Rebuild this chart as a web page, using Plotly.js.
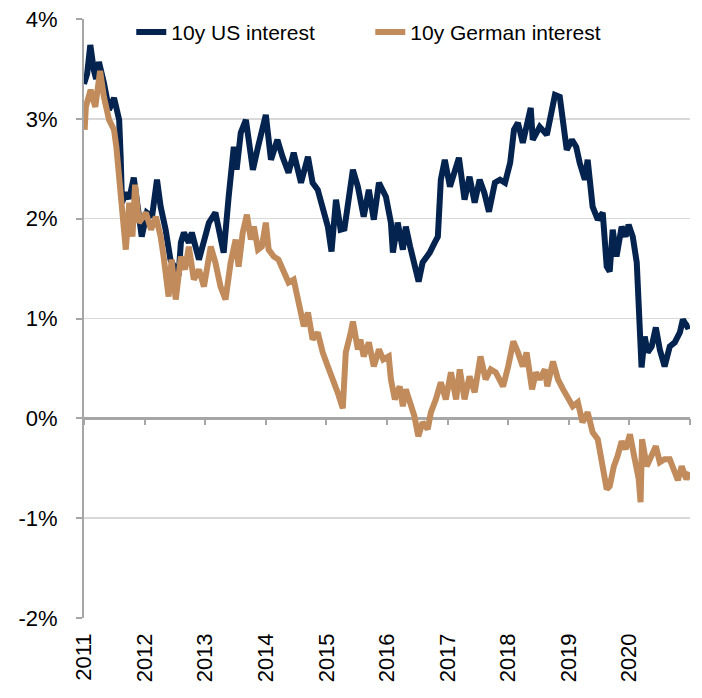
<!DOCTYPE html>
<html>
<head>
<meta charset="utf-8">
<script src="https://cdn.plot.ly/plotly-3.0.1.min.js"></script>
<style>html,body{margin:0;padding:0;background:#fff;}#chart{width:702px;height:698px;}</style>
</head>
<body>
<div id="chart"></div>
<script>
const usDates = ["2011-01-01","2011-01-20","2011-02-08","2011-02-20","2011-03-01","2011-03-15","2011-04-01","2011-05-01","2011-06-01","2011-07-01","2011-08-01","2011-08-10","2011-08-18","2011-09-10","2011-10-01","2011-10-28","2011-11-27","2011-12-15","2012-01-15","2012-02-15","2012-03-16","2012-04-07","2012-05-07","2012-05-25","2012-06-05","2012-07-07","2012-07-24","2012-08-07","2012-08-25","2012-09-24","2012-10-12","2012-11-24","2012-12-18","2013-01-23","2013-03-03","2013-03-28","2013-04-22","2013-05-22","2013-06-22","2013-07-09","2013-08-03","2013-09-03","2013-10-15","2013-11-15","2014-01-01","2014-02-01","2014-03-12","2014-04-12","2014-05-18","2014-06-18","2014-08-01","2014-09-12","2014-10-10","2014-11-10","2014-12-10","2015-01-10","2015-02-01","2015-02-28","2015-03-28","2015-04-20","2015-06-10","2015-07-10","2015-08-14","2015-09-14","2015-10-14","2015-11-14","2015-12-26","2016-01-25","2016-02-06","2016-03-06","2016-04-06","2016-04-24","2016-05-20","2016-06-15","2016-07-10","2016-08-03","2016-09-15","2016-10-15","2016-11-03","2016-11-21","2016-12-15","2017-01-15","2017-02-15","2017-03-10","2017-04-13","2017-05-13","2017-06-13","2017-07-13","2017-08-10","2017-09-07","2017-10-13","2017-11-13","2017-12-13","2018-01-13","2018-02-05","2018-03-01","2018-03-30","2018-05-01","2018-05-17","2018-05-29","2018-07-10","2018-08-22","2018-09-22","2018-10-10","2018-11-08","2018-11-28","2018-12-20","2019-01-20","2019-02-15","2019-03-08","2019-04-08","2019-04-25","2019-05-25","2019-06-25","2019-07-25","2019-08-18","2019-09-05","2019-09-23","2019-10-16","2019-11-16","2019-12-10","2019-12-28","2020-01-22","2020-02-15","2020-03-03","2020-03-15","2020-04-03","2020-04-21","2020-05-15","2020-06-09","2020-07-03","2020-08-01","2020-09-01","2020-10-01","2020-11-01","2020-11-19","2020-12-15","2020-12-31"];
const usValues = [3.35,3.45,3.74,3.55,3.49,3.40,3.57,3.36,3.09,3.21,2.99,2.62,2.16,2.26,2.20,2.41,2.02,1.82,2.06,2.02,2.39,2.12,1.89,1.62,1.59,1.49,1.43,1.76,1.86,1.76,1.86,1.59,1.76,1.96,2.06,1.86,1.66,2.22,2.72,2.49,2.86,2.99,2.49,2.72,3.04,2.59,2.79,2.62,2.46,2.66,2.36,2.62,2.36,2.29,2.12,1.92,1.67,2.19,1.89,1.90,2.49,2.32,2.02,2.29,1.99,2.36,2.22,1.96,1.66,1.96,1.69,1.92,1.72,1.56,1.37,1.56,1.66,1.76,1.82,2.39,2.59,2.32,2.49,2.61,2.19,2.42,2.16,2.39,2.26,2.07,2.36,2.39,2.36,2.56,2.89,2.96,2.76,3.02,3.11,2.79,2.92,2.84,3.12,3.24,3.22,2.96,2.69,2.79,2.72,2.56,2.39,2.59,2.12,1.99,2.06,1.52,1.47,1.89,1.62,1.92,1.82,1.94,1.82,1.56,0.99,0.51,0.82,0.66,0.72,0.91,0.69,0.52,0.72,0.76,0.86,0.99,0.92,0.93];

const deDates = ["2011-01-05","2011-01-12","2011-02-10","2011-03-10","2011-04-08","2011-05-01","2011-06-01","2011-07-01","2011-07-15","2011-08-05","2011-08-20","2011-09-10","2011-10-01","2011-10-20","2011-11-05","2011-11-28","2012-01-09","2012-02-09","2012-03-09","2012-04-07","2012-04-25","2012-05-25","2012-06-12","2012-07-07","2012-08-07","2012-09-01","2012-09-24","2012-10-24","2012-11-24","2012-12-24","2013-02-03","2013-03-03","2013-04-03","2013-05-03","2013-06-03","2013-07-03","2013-07-21","2013-08-15","2013-09-09","2013-10-03","2013-10-21","2013-11-15","2013-12-08","2014-01-01","2014-01-18","2014-02-18","2014-03-18","2014-04-18","2014-05-18","2014-06-18","2014-07-18","2014-08-18","2014-09-12","2014-10-10","2014-11-10","2014-12-10","2015-01-10","2015-02-10","2015-03-10","2015-04-10","2015-04-28","2015-05-28","2015-06-10","2015-07-10","2015-07-25","2015-08-14","2015-09-14","2015-10-14","2015-11-14","2015-12-10","2016-01-12","2016-01-25","2016-02-18","2016-03-18","2016-04-06","2016-04-24","2016-05-20","2016-06-15","2016-07-08","2016-08-03","2016-09-03","2016-09-22","2016-10-22","2016-11-21","2016-12-21","2017-01-21","2017-02-21","2017-03-15","2017-04-13","2017-05-13","2017-06-13","2017-07-18","2017-08-18","2017-09-18","2017-10-18","2017-12-01","2018-01-01","2018-02-01","2018-03-01","2018-03-30","2018-04-22","2018-05-25","2018-06-17","2018-07-10","2018-08-10","2018-08-25","2018-09-28","2018-10-28","2018-11-28","2018-12-26","2019-01-25","2019-02-25","2019-03-25","2019-04-25","2019-05-25","2019-06-25","2019-07-18","2019-08-18","2019-09-05","2019-09-30","2019-10-22","2019-11-16","2019-12-10","2020-01-05","2020-02-03","2020-02-27","2020-03-09","2020-03-18","2020-04-15","2020-05-08","2020-06-09","2020-07-03","2020-08-01","2020-09-01","2020-09-20","2020-10-20","2020-11-12","2020-12-10","2020-12-31"];
const deValues = [2.89,3.12,3.29,3.12,3.48,3.22,2.99,2.89,2.72,2.39,2.02,1.69,2.16,1.82,2.34,1.96,2.06,1.89,2.02,1.82,1.62,1.22,1.59,1.19,1.62,1.49,1.72,1.39,1.49,1.32,1.72,1.56,1.32,1.19,1.56,1.79,1.52,1.86,2.04,1.79,1.92,1.69,1.72,1.96,1.69,1.62,1.59,1.46,1.36,1.39,1.12,0.92,1.06,0.79,0.86,0.66,0.52,0.39,0.26,0.10,0.66,0.86,0.97,0.69,0.79,0.62,0.76,0.52,0.69,0.59,0.62,0.39,0.19,0.32,0.12,0.29,0.16,0.02,-0.18,-0.04,-0.11,0.06,0.19,0.36,0.19,0.46,0.19,0.49,0.19,0.42,0.26,0.62,0.39,0.49,0.46,0.32,0.52,0.77,0.66,0.52,0.66,0.29,0.46,0.39,0.49,0.32,0.57,0.39,0.29,0.22,0.12,0.16,-0.04,0.06,-0.14,-0.21,-0.41,-0.71,-0.68,-0.48,-0.38,-0.23,-0.31,-0.16,-0.41,-0.61,-0.84,-0.21,-0.48,-0.38,-0.28,-0.44,-0.41,-0.41,-0.51,-0.62,-0.48,-0.61,-0.54];

const seriesNames = ["10y US interest", "10y German interest"];
const yTickVals = [-2, -1, 0, 1, 2, 3, 4];
const yTickText = ["-2%", "-1%", "0%", "1%", "2%", "3%", "4%"];
const xTickVals = ["2011-01-01","2012-01-01","2013-01-01","2014-01-01","2015-01-01","2016-01-01","2017-01-01","2018-01-01","2019-01-01","2020-01-01"];
const xTickText = ["2011","2012","2013","2014","2015","2016","2017","2018","2019","2020"];
const xZeroTickVals = ["2011-01-01","2012-01-01","2013-01-01","2014-01-01","2015-01-01","2016-01-01","2017-01-01","2018-01-01","2019-01-01","2020-01-01","2021-01-01"];

const font = "Arial, 'Liberation Sans', sans-serif";
const xRange = ["2011-01-01", "2021-01-01"];

const traces = [
  {x: usDates, y: usValues, name: seriesNames[0], type: "scatter", mode: "lines",
   line: {color: "#04234f", width: 6}, xaxis: "x", yaxis: "y"},
  {x: deDates, y: deValues, name: seriesNames[1], type: "scatter", mode: "lines",
   line: {color: "#c18b5c", width: 6}, xaxis: "x2", yaxis: "y"}
];

const layout = {
  width: 702, height: 698,
  margin: {l: 84, r: 12, t: 19, b: 80},
  paper_bgcolor: "#ffffff", plot_bgcolor: "#ffffff",
  font: {family: font, size: 21, color: "#000"},
  showlegend: true,
  legend: {orientation: "h", x: 0.078, y: 1.012, xanchor: "left", yanchor: "top",
           font: {family: font, size: 21, color: "#000"}, bgcolor: "rgba(0,0,0,0)",
           entrywidth: 194, traceorder: "normal"},
  xaxis: {type: "date", range: xRange, tickvals: xTickVals, ticktext: xTickText,
          tickangle: -90, ticks: "", showline: false, showgrid: false, zeroline: false,
          tickfont: {family: font, size: 22, color: "#000"}, ticklabelstandoff: 10, fixedrange: true},
  xaxis2: {type: "date", range: xRange, overlaying: "x", anchor: "free", position: 1/3,
           tickvals: xZeroTickVals, showticklabels: false, ticks: "outside", ticklen: 6,
           tickwidth: 2, tickcolor: "#a6a6a6", showline: false, showgrid: false, zeroline: false},
  yaxis: {range: [-2, 4], tickvals: yTickVals, ticktext: yTickText, ticks: "outside",
          ticklen: 6, tickwidth: 2, tickcolor: "#a6a6a6", showline: true, linecolor: "#a6a6a6",
          linewidth: 2, showgrid: true, gridcolor: "#d9d9d9", gridwidth: 1.5,
          zeroline: true, zerolinecolor: "#a6a6a6", zerolinewidth: 2.5,
          tickfont: {family: font, size: 22, color: "#000"}, ticklabelstandoff: 14}
};

Plotly.newPlot("chart", traces, layout, {displayModeBar: false, staticPlot: true});
</script>
</body>
</html>
